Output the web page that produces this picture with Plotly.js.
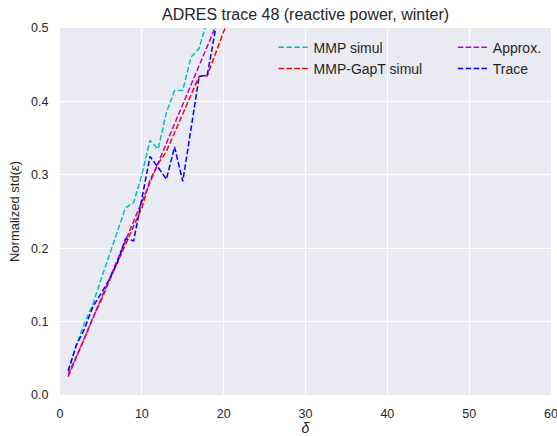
<!DOCTYPE html>
<html>
<head>
<meta charset="utf-8">
<script src="https://cdn.plot.ly/plotly-3.0.1.min.js"></script>
<style>html,body{margin:0;padding:0;background:#fff;}#chart{width:557px;height:436px;}</style>
</head>
<body>
<div id="chart"></div>
<script>
const deltaMMP = [1,2,3,4,5,6,7,8,9,10,11,12,13,14,15,16,17,18,19];
const mmpSimul = [0.032,0.068,0.098,0.123,0.157,0.190,0.225,0.255,0.262,0.300,0.347,0.335,0.385,0.415,0.415,0.460,0.472,0.510,0.550];

const deltaGapT = [1,2,3,4,5,6,7,8,9,10,11,12,13,14,15,16,17,18,19,20,21];
const gapTSimul = [0.028,0.052,0.077,0.105,0.128,0.155,0.180,0.207,0.230,0.255,0.293,0.315,0.332,0.358,0.383,0.408,0.434,0.435,0.466,0.497,0.525];

const deltaApprox = [1,2,3,4,5,6,7,8,9,10,11,12,13,14,15,16,17,18,19,20];
const approx = [0.025,0.051,0.078,0.104,0.131,0.157,0.184,0.210,0.237,0.263,0.290,0.316,0.343,0.369,0.396,0.422,0.449,0.475,0.502,0.528];

const deltaTrace = [1,2,3,4,5,6,7,8,9,10,11,12,13,14,15,16,17,18,19,20];
const trace = [0.033,0.068,0.090,0.120,0.138,0.157,0.180,0.213,0.210,0.265,0.325,0.310,0.294,0.338,0.291,0.362,0.434,0.436,0.505,0.560];

const xTicks = [0,10,20,30,40,50,60];
const yTicks = [0.0,0.1,0.2,0.3,0.4,0.5];

const FONT = 'Arial, "Liberation Sans", sans-serif';
const dashStyle = '5.5px,2.4px';

function mk(x, y, name, color, legend) {
  return {x: x, y: y, name: name, type: 'scatter', mode: 'lines',
    line: {color: color, width: 1.5, dash: dashStyle}, legend: legend};
}

const data = [
  mk(deltaMMP, mmpSimul, 'MMP simul', '#00BFBF', 'legend'),
  mk(deltaGapT, gapTSimul, 'MMP-GapT simul', '#FF0000', 'legend'),
  mk(deltaApprox, approx, 'Approx.', '#BF00BF', 'legend2'),
  mk(deltaTrace, trace, 'Trace', '#0000FF', 'legend2')
];

const legendBase = {
  bgcolor: 'rgba(0,0,0,0)', borderwidth: 0,
  font: {family: FONT, size: 14, color: '#262626'},
  xanchor: 'left', yanchor: 'top', tracegroupgap: 0, itemwidth: 30
};

const layout = {
  width: 557, height: 436,
  margin: {l: 60, r: 6, t: 28, b: 41},
  paper_bgcolor: '#FFFFFF', plot_bgcolor: '#EAEAF2',
  font: {family: FONT, color: '#262626'},
  title: {text: 'ADRES trace 48 (reactive power, winter)', font: {family: FONT, size: 16, color: '#262626'},
    x: 0.5486, xanchor: 'center', y: 0.968, yanchor: 'middle'},
  xaxis: {range: [0, 60], tickvals: xTicks, ticktext: xTicks.map(String), showgrid: true, gridcolor: '#FFFFFF', gridwidth: 1,
    zeroline: false, showline: false, ticks: 'outside', ticklen: 7, tickcolor: 'rgba(0,0,0,0)',
    ticklabeloverflow: 'allow',
    tickfont: {family: FONT, size: 12.5, color: '#262626'},
    title: {text: '<i>δ</i>', font: {family: FONT, size: 14, color: '#262626'}, standoff: 12}},
  yaxis: {range: [0, 0.5], tickvals: yTicks, ticktext: yTicks.map(v => v.toFixed(1)), showgrid: true, gridcolor: '#FFFFFF', gridwidth: 1,
    zeroline: false, showline: false, ticks: 'outside', ticklen: 8, tickcolor: 'rgba(0,0,0,0)',
    tickfont: {family: FONT, size: 12.5, color: '#262626'},
    title: {text: 'Normalized std(<i>ε</i>)', font: {family: FONT, size: 13, color: '#262626'}, standoff: 8}},
  legend: Object.assign({}, legendBase, {x: 0.435, y: 0.99}),
  legend2: Object.assign({}, legendBase, {x: 0.80, y: 0.99}),
  showlegend: true
};

Plotly.newPlot('chart', data, layout, {displayModeBar: false, staticPlot: true});
</script>
</body>
</html>
